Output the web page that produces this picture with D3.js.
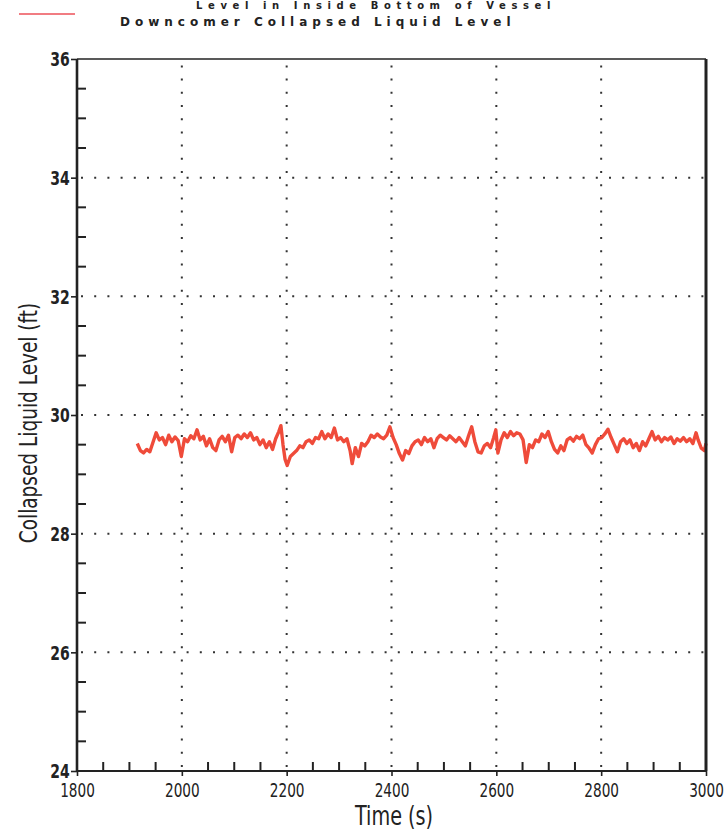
<!DOCTYPE html>
<html><head><meta charset="utf-8">
<script src="https://cdn.jsdelivr.net/npm/d3@7"></script>
<style>body{margin:0;background:#fff}svg{display:block}</style>
</head><body>
<svg id="c" width="724" height="831"></svg>
<script>
const titleText = "Level in Inside Bottom of Vessel";
const seriesName = "Downcomer Collapsed Liquid Level";
const xLabel = "Time (s)";
const yLabel = "Collapsed Liquid Level  (ft)";
const xTicks = [1800, 2000, 2200, 2400, 2600, 2800, 3000];
const yTicks = [24, 26, 28, 30, 32, 34, 36];
const times = [1915,1921,1927,1933,1939,1945,1951,1957,1963,1969,1975,1981,1987,1993,1999,2005,2011,2017,2023,2029,2035,2041,2047,2053,2059,2065,2071,2077,2083,2089,2095,2101,2107,2113,2119,2125,2131,2137,2143,2149,2155,2161,2167,2173,2179,2185,2189,2193,2197,2201,2207,2213,2219,2225,2231,2237,2243,2249,2255,2261,2267,2273,2279,2285,2291,2297,2303,2309,2315,2321,2325,2331,2337,2343,2349,2355,2361,2367,2373,2379,2385,2391,2397,2403,2409,2415,2421,2427,2433,2439,2445,2451,2457,2463,2469,2475,2481,2487,2493,2499,2505,2511,2517,2523,2529,2535,2541,2547,2553,2559,2565,2571,2577,2583,2589,2595,2599,2603,2609,2615,2621,2627,2633,2639,2645,2651,2657,2663,2669,2675,2681,2687,2693,2699,2705,2711,2717,2723,2729,2735,2741,2747,2753,2759,2765,2771,2777,2783,2789,2795,2801,2807,2813,2819,2825,2831,2837,2843,2849,2855,2861,2867,2873,2879,2885,2891,2897,2903,2909,2915,2921,2927,2933,2939,2945,2951,2957,2963,2969,2975,2981,2985,2991,2997,3000];
const levels = [29.52,29.40,29.36,29.42,29.38,29.54,29.70,29.58,29.62,29.50,29.66,29.55,29.63,29.57,29.30,29.60,29.55,29.65,29.60,29.75,29.58,29.64,29.48,29.60,29.45,29.40,29.58,29.64,29.55,29.66,29.38,29.62,29.66,29.60,29.68,29.62,29.70,29.58,29.62,29.50,29.58,29.45,29.55,29.42,29.60,29.72,29.82,29.50,29.25,29.15,29.30,29.35,29.40,29.48,29.45,29.55,29.58,29.52,29.62,29.60,29.72,29.60,29.68,29.62,29.78,29.58,29.62,29.55,29.60,29.40,29.18,29.45,29.30,29.52,29.48,29.55,29.66,29.62,29.68,29.63,29.60,29.66,29.80,29.62,29.50,29.35,29.24,29.40,29.35,29.48,29.55,29.58,29.50,29.62,29.55,29.60,29.45,29.60,29.66,29.62,29.58,29.65,29.60,29.55,29.62,29.55,29.48,29.65,29.80,29.55,29.38,29.36,29.48,29.52,29.45,29.62,29.75,29.36,29.58,29.70,29.62,29.72,29.65,29.70,29.68,29.58,29.20,29.50,29.45,29.58,29.55,29.68,29.62,29.72,29.55,29.42,29.36,29.48,29.40,29.58,29.62,29.56,29.64,29.60,29.66,29.50,29.44,29.36,29.50,29.60,29.62,29.68,29.76,29.62,29.50,29.38,29.55,29.60,29.52,29.58,29.45,29.52,29.40,29.55,29.48,29.60,29.72,29.58,29.64,29.55,29.62,29.58,29.63,29.52,29.60,29.56,29.62,29.55,29.60,29.52,29.70,29.58,29.44,29.40,29.52];

const svg = d3.select("#c");
const L = 77, R = 706, T = 59, B = 771;
const x = d3.scaleLinear().domain([1800, 3000]).range([L, R]);
const y = d3.scaleLinear().domain([24, 36]).range([B, T]);
const sans = "'DejaVu Sans',sans-serif";
const ink = "#222";

// title (top, mostly cropped in the original) and legend
svg.append("text").attr("x", 376).attr("y", 9).attr("text-anchor", "middle")
  .attr("font-family", sans).attr("font-weight", "bold")
  .attr("font-size", 10).attr("letter-spacing", 5.6).attr("fill", ink).text(titleText);
svg.append("line").attr("x1", 19).attr("x2", 75).attr("y1", 14).attr("y2", 14)
  .attr("stroke", "#ec5058").attr("stroke-width", 1.6);
svg.append("text").attr("x", 120).attr("y", 26)
  .attr("font-family", sans).attr("font-weight", "bold")
  .attr("font-size", 12).attr("letter-spacing", 5.0).attr("fill", ink).text(seriesName);

// grid (dotted)
const grid = svg.append("g").attr("stroke", "#333").attr("stroke-width", 2)
  .attr("stroke-dasharray", "2,11.2");
grid.selectAll(".gx").data(xTicks.slice(1, -1)).join("line")
  .attr("x1", d => x(d)).attr("x2", d => x(d)).attr("y1", B - 4).attr("y2", T + 2);
grid.selectAll(".gy").data(yTicks.slice(1, -1)).join("line")
  .attr("x1", L + 4).attr("x2", R - 2).attr("y1", d => y(d)).attr("y2", d => y(d));

// data line
const line = d3.line().x((d, i) => x(times[i])).y(d => y(d));
svg.append("path").datum(levels).attr("d", line).attr("fill", "none")
  .attr("stroke", "#ef4b3a").attr("stroke-width", 3.4).attr("stroke-linejoin", "round");

// axes with inward minor ticks
const yMinor = d3.range(24, 36.01, 0.5).filter(v => v % 2 !== 0);
const xMinor = d3.range(1800, 3000.1, 50).filter(v => v % 200 !== 0);
const yAxis = d3.axisLeft(y).tickValues(yTicks).tickSize(6).tickFormat(d3.format("d"));
const yg = svg.append("g").attr("transform", `translate(${L},0)`).call(yAxis);
yg.select(".domain").remove();
yg.selectAll(".tick line").attr("stroke", ink).attr("stroke-width", 1.6);
yg.selectAll(".tick text").attr("font-family", sans).attr("font-weight", "bold")
  .attr("font-size", 20).attr("fill", ink).attr("x", -10.5).attr("dy", "0.34em")
  .attr("transform", "scale(0.7,1)");
svg.append("g").selectAll("line").data(yMinor).join("line")
  .attr("x1", L).attr("x2", L + 9).attr("y1", d => y(d)).attr("y2", d => y(d))
  .attr("stroke", ink).attr("stroke-width", 2);

const xAxis = d3.axisBottom(x).tickValues(xTicks).tickSize(5).tickFormat(d3.format("d"));
const xg = svg.append("g").attr("transform", `translate(0,${B})`).call(xAxis);
xg.select(".domain").remove();
xg.selectAll(".tick line").attr("stroke", ink).attr("stroke-width", 1.6);
xg.selectAll(".tick text").attr("font-family", sans).attr("font-size", 19.5)
  .attr("fill", ink).attr("y", 12).attr("dy", "0.72em").attr("transform", "scale(0.7,1)");
svg.append("g").selectAll("line").data(xMinor).join("line")
  .attr("x1", d => x(d)).attr("x2", d => x(d)).attr("y1", B).attr("y2", B - 9)
  .attr("stroke", ink).attr("stroke-width", 2);

// frame
svg.append("line").attr("x1", L).attr("x2", R).attr("y1", T).attr("y2", T).attr("stroke", ink).attr("stroke-width", 1.5);
svg.append("line").attr("x1", L).attr("x2", R).attr("y1", B).attr("y2", B).attr("stroke", ink).attr("stroke-width", 2.2);
svg.append("line").attr("x1", L).attr("x2", L).attr("y1", T).attr("y2", B).attr("stroke", ink).attr("stroke-width", 2.6);
svg.append("line").attr("x1", R).attr("x2", R).attr("y1", T).attr("y2", B).attr("stroke", ink).attr("stroke-width", 3);

// axis titles
svg.append("text").attr("transform", "translate(394,825) scale(0.74,1)").attr("text-anchor", "middle")
  .attr("font-family", sans).attr("font-size", 26).attr("fill", ink).text(xLabel);
svg.append("text").attr("transform", `translate(37,${y(30) + 8}) rotate(-90) scale(0.74,1)`).attr("text-anchor", "middle")
  .attr("font-family", sans).attr("font-size", 25).attr("fill", ink).text(yLabel);
</script>
</body></html>
